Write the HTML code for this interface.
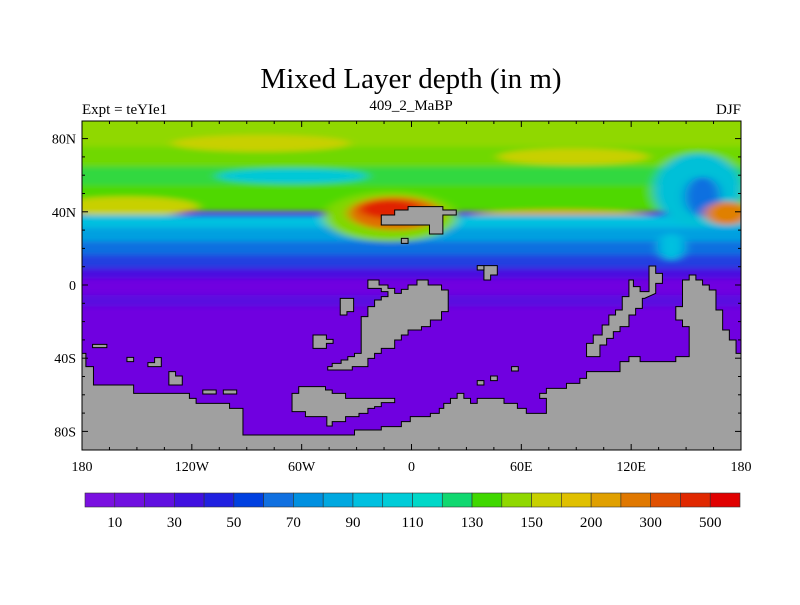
<!DOCTYPE html>
<html><head><meta charset="utf-8"><style>
body{margin:0;background:#fff;}
svg text{font-family:"Liberation Serif",serif;fill:#000;}
</style></head><body>
<svg id="chart" width="800" height="600" xmlns="http://www.w3.org/2000/svg">
<defs>
<clipPath id="pc"><rect x="82" y="121" width="659" height="329"/></clipPath>
<filter id="bl" x="-20%" y="-20%" width="140%" height="140%"><feGaussianBlur stdDeviation="12 8"/></filter>
</defs>
<text x="411" y="88" font-size="29" text-anchor="middle">Mixed Layer depth (in m)</text>
<text x="82" y="114" font-size="15">Expt = teYIe1</text>
<text x="411" y="110" font-size="15" text-anchor="middle">409_2_MaBP</text>
<text x="741" y="114" font-size="15" text-anchor="end">DJF</text>
<g clip-path="url(#pc)">
<rect x="82" y="121" width="659" height="329" fill="#7000e0"/>
<g transform="translate(60,100) scale(0.44623,0.33333)">
<g filter="url(#bl)">
<rect x="0" y="0" width="1600" height="150" fill="#90d800"/>
<rect x="0" y="140" width="1600" height="70" fill="#70d800"/>
<ellipse cx="450" cy="130" rx="200" ry="25" fill="#c8d000"/>
<ellipse cx="1150" cy="170" rx="170" ry="25" fill="#c8d000"/>
<rect x="0" y="200" width="1600" height="60" fill="#30d840"/>
<ellipse cx="520" cy="228" rx="170" ry="22" fill="#00c8d8"/>
<rect x="0" y="255" width="1600" height="80" fill="#50d800"/>
<ellipse cx="150" cy="320" rx="160" ry="30" fill="#c8d000"/>
<ellipse cx="1120" cy="355" rx="230" ry="25" fill="#e0a000"/>
<rect x="0" y="345" width="1600" height="40" fill="#00c0e0"/>
<rect x="0" y="385" width="1600" height="40" fill="#00a0e0"/>
<rect x="0" y="425" width="1600" height="40" fill="#1070e0"/>
<rect x="0" y="465" width="1600" height="40" fill="#2040e0"/>
<rect x="0" y="505" width="1600" height="30" fill="#4a10e0"/>
<rect x="0" y="585" width="1600" height="35" fill="#5a10e0"/>
<ellipse cx="740" cy="350" rx="150" ry="75" fill="#80d800"/>
<ellipse cx="750" cy="340" rx="105" ry="50" fill="#e07000"/>
<ellipse cx="740" cy="328" rx="70" ry="28" fill="#e02000"/>
<ellipse cx="1430" cy="270" rx="100" ry="110" fill="#00c0d8"/>
<ellipse cx="1440" cy="290" rx="40" ry="60" fill="#1070e0"/>
<ellipse cx="1495" cy="340" rx="50" ry="35" fill="#e08000"/>
<ellipse cx="1370" cy="440" rx="30" ry="40" fill="#00c0e0"/>
</g>
<g fill="#a0a0a0" stroke="#000" stroke-width="1" vector-effect="non-scaling-stroke">
<polygon vector-effect="non-scaling-stroke" points="50,760 58,760 58,800 75,800 75,855 165,855 165,880 290,880 290,895 305,895 305,910 380,910 380,925 410,925 410,1005 660,1005 660,990 720,990 720,980 765,980 765,965 785,965 785,950 830,950 830,940 850,940 850,925 860,925 860,910 875,910 875,895 890,895 890,880 905,880 905,895 920,895 920,910 935,910 935,895 995,895 995,910 1025,910 1025,925 1045,925 1045,940 1090,940 1090,895 1075,895 1075,880 1090,880 1090,865 1135,865 1135,850 1165,850 1165,835 1180,835 1180,815 1255,815 1255,785 1275,785 1275,770 1300,770 1300,785 1380,785 1380,770 1410,770 1410,680 1395,680 1395,660 1380,660 1380,620 1395,620 1395,540 1410,540 1410,525 1425,525 1425,540 1440,540 1440,555 1455,555 1455,570 1470,570 1470,630 1485,630 1485,690 1500,690 1500,720 1515,720 1515,760 1540,760 1540,1070 30,1070 30,760"/>
<polygon vector-effect="non-scaling-stroke" points="1180,770 1180,730 1195,730 1195,705 1215,705 1215,675 1230,675 1230,645 1245,645 1245,630 1260,630 1260,590 1275,590 1275,540 1285,540 1285,560 1300,560 1300,575 1320,575 1320,498 1335,498 1335,520 1350,520 1350,550 1335,550 1335,580 1310,595 1305,595 1305,625 1290,625 1290,645 1275,645 1275,680 1255,680 1255,695 1240,695 1240,715 1225,715 1225,735 1210,735 1210,770"/>
<polygon vector-effect="non-scaling-stroke" points="690,540 715,540 715,555 735,555 735,565 750,565 750,580 765,580 765,568 780,568 780,555 800,555 800,540 825,540 825,555 855,555 855,570 870,570 870,635 855,635 855,660 830,660 830,680 810,680 810,690 780,690 780,705 765,705 765,720 750,720 750,745 720,745 720,760 705,760 705,775 690,775 690,800 655,800 655,810 600,810 600,800 610,800 610,790 630,790 630,780 645,780 645,770 660,770 660,760 675,760 675,650 690,650 690,620 705,620 705,600 720,600 720,590 735,590 735,575 720,575 720,565 690,565"/>
<polygon vector-effect="non-scaling-stroke" points="520,935 520,880 535,880 535,860 595,860 595,870 610,870 610,880 640,880 640,895 750,895 750,908 720,908 720,920 705,920 705,925 690,925 690,940 670,940 670,950 640,950 640,965 610,965 610,978 598,978 598,950 550,950 550,935"/>
<polygon vector-effect="non-scaling-stroke" points="720,345 750,345 750,330 780,330 780,320 858,320 858,330 888,330 888,345 858,345 858,402 828,402 828,375 720,375"/>
<polygon vector-effect="non-scaling-stroke" points="950,497 980,497 980,525 965,525 965,540 950,540"/>
<polygon vector-effect="non-scaling-stroke" points="628,595 658,595 658,635 643,635 643,645 628,645"/>
<polygon vector-effect="non-scaling-stroke" points="567,705 597,705 597,718 612,718 612,730 597,730 597,745 567,745"/>
<polygon vector-effect="non-scaling-stroke" points="244,815 259,815 259,828 274,828 274,855 244,855"/>
<rect vector-effect="non-scaling-stroke" x="765" y="415" width="15" height="15"/>
<rect vector-effect="non-scaling-stroke" x="935" y="497" width="15" height="13"/>
<rect vector-effect="non-scaling-stroke" x="73" y="733" width="32" height="10"/>
<rect vector-effect="non-scaling-stroke" x="150" y="772" width="15" height="13"/>
<polygon vector-effect="non-scaling-stroke" points="212,773 227,773 227,800 197,800 197,788 212,788"/>
<rect vector-effect="non-scaling-stroke" x="320" y="870" width="30" height="12"/>
<rect vector-effect="non-scaling-stroke" x="366" y="870" width="30" height="12"/>
<rect vector-effect="non-scaling-stroke" x="1012" y="800" width="15" height="13"/>
<rect vector-effect="non-scaling-stroke" x="965" y="828" width="15" height="14"/>
<rect vector-effect="non-scaling-stroke" x="935" y="842" width="15" height="13"/>
</g>
</g>
</g>
<rect x="82" y="121" width="659" height="329" fill="none" stroke="#000" stroke-width="1"/>
<g id="axes"></g>
<g id="cbar"></g>
</svg>
<script>
const lonTicks=[-180,-120,-60,0,60,120,180];
const lonLabels=["180","120W","60W","0","60E","120E","180"];
const latTicks=[80,40,0,-40,-80];
const latLabels=["80N","40N","0","40S","80S"];
const cbColors=["#7a10e0","#7010e0","#6010e0","#4010e0","#2020e0","#0040e0","#1070e0","#0090e0","#00a8e0","#00c0e0","#00ccd8","#00d8c8","#10d870","#40d800","#90d800","#c8d000","#e0c000","#e0a000","#e07800","#e05000","#e02800","#e00000"];
const cbLabels=["10","30","50","70","90","110","130","150","200","300","500"];
const NS="http://www.w3.org/2000/svg";
const X0=82,X1=741,Y0=121,Y1=450;
function xs(lon){return X0+(lon+180)/360*(X1-X0);}
function ys(lat){return 285-lat*1.83;}
function mk(t,a,p){const e=document.createElementNS(NS,t);for(const k in a)e.setAttribute(k,a[k]);p.appendChild(e);return e;}
const ax=document.getElementById('axes');
for(let lon=-180;lon<=180;lon+=15){const maj=lon%60===0,l=maj?6:3;
 const t1=mk('line',{x1:xs(lon),x2:xs(lon),y1:Y1,y2:Y1-l,stroke:'#000'},ax);
 
 
 const t2=mk('line',{x1:xs(lon),x2:xs(lon),y1:Y0,y2:Y0+l,stroke:'#000'},ax);
 
 }
for(let lat=-80;lat<=80;lat+=10){const maj=lat%40===0,l=maj?6:3;
 const t1=mk('line',{x1:X0,x2:X0+l,y1:ys(lat),y2:ys(lat),stroke:'#000'},ax);
 
 
 const t2=mk('line',{x1:X1,x2:X1-l,y1:ys(lat),y2:ys(lat),stroke:'#000'},ax);
 
 }
lonTicks.forEach((v,i)=>{const t=mk('text',{x:xs(v),y:471,'font-size':14,'text-anchor':'middle'},ax);t.textContent=lonLabels[i];
 
 });
latTicks.forEach((v,i)=>{const t=mk('text',{x:76,y:ys(v)+5,'font-size':14,'text-anchor':'end'},ax);t.textContent=latLabels[i];
 
 });
const cb=document.getElementById('cbar');
const cx0=85,cx1=740,bw=(cx1-cx0)/cbColors.length;
cbColors.forEach((c,i)=>{const r=mk('rect',{x:cx0+i*bw,y:493,width:bw,height:14,fill:c,stroke:'#333','stroke-width':0.6},cb);
 
 });
cbLabels.forEach((s,i)=>{const t=mk('text',{x:cx0+(2*i+1)*bw,y:527,'font-size':15,'text-anchor':'middle'},cb);t.textContent=s;
 
 });
</script>
</body></html>
